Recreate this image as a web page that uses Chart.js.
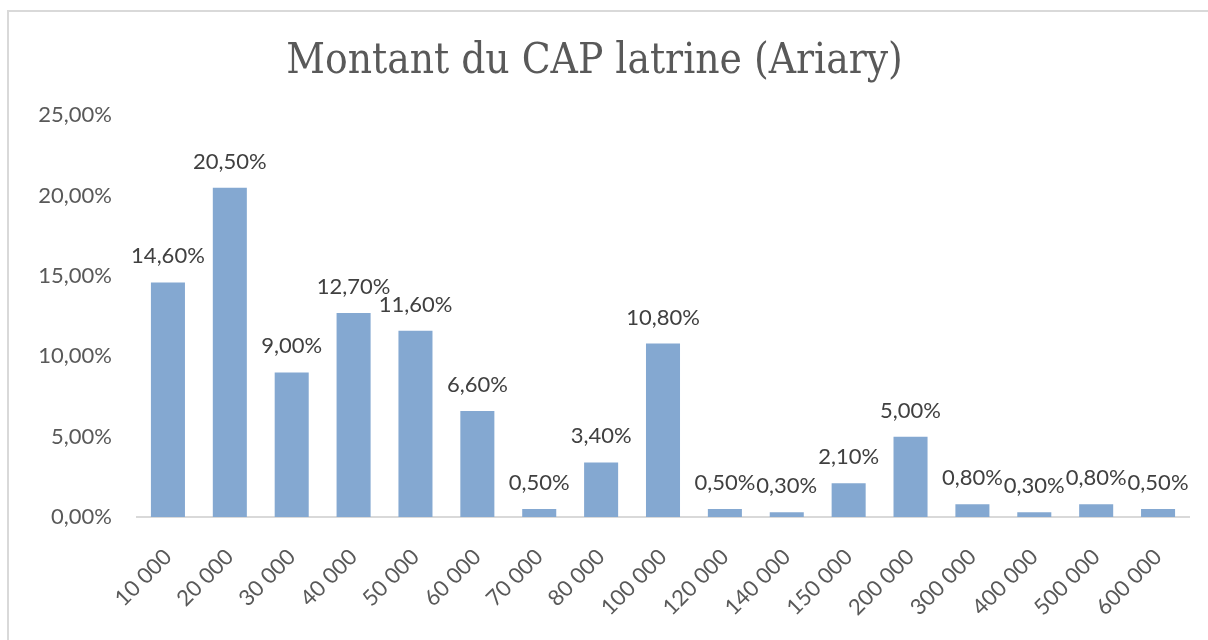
<!DOCTYPE html>
<html>
<head>
<meta charset="utf-8">
<script src="https://cdn.jsdelivr.net/npm/chart.js@4.4.0/dist/chart.umd.min.js"></script>
<style>
  html, body { margin: 0; padding: 0; background: #fff; }
  #cadre { position: absolute; left: 0; top: 0; width: 1208px; height: 640px; }
  #bord { position: absolute; left: 7px; top: 10px; width: 1201px; height: 630px;
          border-left: 2px solid #d9d9d9; border-top: 2px solid #d9d9d9; pointer-events: none; }
</style>
</head>
<body>
<div id="cadre"><canvas id="graphique" width="1208" height="640"></canvas></div>
<div id="bord"></div>
<script>
  // montants (Ariary) et part des ménages (%)
  const montants = ["10 000", "20 000", "30 000", "40 000", "50 000", "60 000", "70 000", "80 000",
    "100 000", "120 000", "140 000", "150 000", "200 000", "300 000", "400 000", "500 000", "600 000"];
  const pourcentages = [14.6, 20.5, 9.0, 12.7, 11.6, 6.6, 0.5, 3.4, 10.8, 0.5, 0.3, 2.1, 5.0, 0.8, 0.3, 0.8, 0.5];
  const ticksY = [0, 5, 10, 15, 20, 25];

  const police = "Lato, 'Open Sans', sans-serif";
  const gris = "#595959";

  const fmt = v => v.toFixed(2).replace(".", ",") + "%";

  // étiquettes au-dessus des barres
  const etiquettes = {
    id: "etiquettes",
    afterDatasetsDraw(chart) {
      const ctx = chart.ctx;
      const meta = chart.getDatasetMeta(0);
      ctx.save();
      ctx.font = "22px " + police;
      ctx.fillStyle = "#404040";
      ctx.textAlign = "center";
      ctx.textBaseline = "alphabetic";
      meta.data.forEach((bar, i) => {
        ctx.fillText(fmt(pourcentages[i]), bar.x, bar.y - 19);
      });
      ctx.restore();
    }
  };

  new Chart(document.getElementById("graphique"), {
    type: "bar",
    data: {
      labels: montants,
      datasets: [{
        data: pourcentages,
        backgroundColor: "#84a8d1",
        categoryPercentage: 1,
        barPercentage: 0.55
      }]
    },
    options: {
      responsive: false,
      animation: false,
      layout: { padding: { left: 0, right: 19, top: 0, bottom: 0 } },
      plugins: {
        legend: { display: false },
        tooltip: { enabled: false },
        title: {
          display: true,
          text: "Montant du CAP latrine (Ariary)",
          color: gris,
          font: { family: "'DejaVu Serif Condensed', 'Liberation Serif', serif", size: 42, weight: "normal" },
          padding: { top: 37, bottom: 28 }
        }
      },
      scales: {
        x: {
          grid: { display: false, drawTicks: false },
          border: { display: true, color: "#d9d9d9", width: 2 },
          ticks: {
            color: gris,
            font: { family: police, size: 22 },
            minRotation: 45,
            maxRotation: 45,
            padding: 27,
            autoSkip: false
          },
          afterFit(axis) { axis.height = 123; }
        },
        y: {
          min: 0,
          max: 25,
          grid: { display: false, drawTicks: false },
          border: { display: false },
          afterBuildTicks(axis) { axis.ticks = ticksY.map(v => ({ value: v })); },
          ticks: {
            color: gris,
            font: { family: police, size: 22 },
            padding: 25,
            callback: v => fmt(v)
          },
          afterFit(axis) { axis.width = 137; }
        }
      }
    },
    plugins: [etiquettes]
  });
</script>
</body>
</html>
